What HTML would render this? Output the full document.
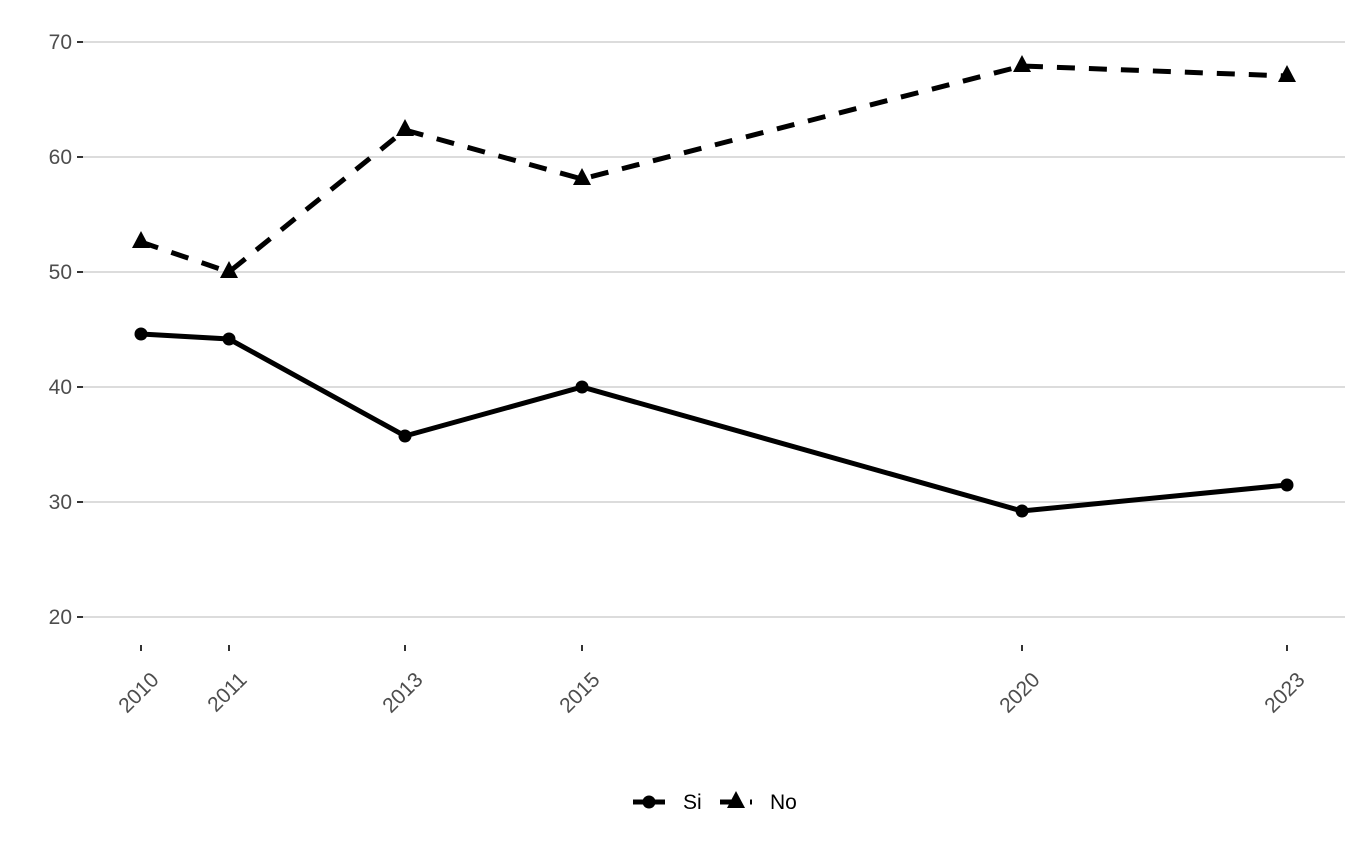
<!DOCTYPE html>
<html><head><meta charset="utf-8"><style>html,body{margin:0;padding:0;background:#fff}</style></head>
<body>
<svg width="1358" height="849" xmlns="http://www.w3.org/2000/svg" font-family="Liberation Sans, Arial, sans-serif">
<g stroke="#dcdcdc" stroke-width="2">
<line x1="83" y1="42" x2="1345" y2="42"/>
<line x1="83" y1="157" x2="1345" y2="157"/>
<line x1="83" y1="272" x2="1345" y2="272"/>
<line x1="83" y1="387" x2="1345" y2="387"/>
<line x1="83" y1="502" x2="1345" y2="502"/>
<line x1="83" y1="617" x2="1345" y2="617"/>
</g>
<g stroke="#333" stroke-width="2">
<line x1="77" y1="42" x2="83" y2="42"/><line x1="77" y1="157" x2="83" y2="157"/><line x1="77" y1="272" x2="83" y2="272"/><line x1="77" y1="387" x2="83" y2="387"/><line x1="77" y1="502" x2="83" y2="502"/><line x1="77" y1="617" x2="83" y2="617"/>
<line x1="141" y1="645" x2="141" y2="651"/><line x1="229" y1="645" x2="229" y2="651"/><line x1="405" y1="645" x2="405" y2="651"/><line x1="582" y1="645" x2="582" y2="651"/><line x1="1022" y1="645" x2="1022" y2="651"/><line x1="1287" y1="645" x2="1287" y2="651"/>
</g>
<g fill="#4d4d4d" font-size="21" text-anchor="end">
<text x="72" y="49">70</text><text x="72" y="164">60</text><text x="72" y="279">50</text><text x="72" y="394">40</text><text x="72" y="509">30</text><text x="72" y="624">20</text>
<text transform="translate(160,681) rotate(-45)">2010</text>
<text transform="translate(248,681) rotate(-45)">2011</text>
<text transform="translate(424,681) rotate(-45)">2013</text>
<text transform="translate(601,681) rotate(-45)">2015</text>
<text transform="translate(1041,681) rotate(-45)">2020</text>
<text transform="translate(1306,681) rotate(-45)">2023</text>
</g>
<polyline fill="none" stroke="#000" stroke-width="5" points="141,334 229,339 405,436 582,387 1022,511 1287,485"/>
<polyline fill="none" stroke="#000" stroke-width="5" stroke-dasharray="18,14" points="141,242 229,272 405,130 582,179 1022,66 1287,76"/>
<g fill="#000">
<circle cx="141" cy="334" r="6.5"/><circle cx="229" cy="339" r="6.5"/><circle cx="405" cy="436" r="6.5"/><circle cx="582" cy="387" r="6.5"/><circle cx="1022" cy="511" r="6.5"/><circle cx="1287" cy="485" r="6.5"/>
<polygon points="141,231 150,248 132,248"/><polygon points="229,261 238,278 220,278"/><polygon points="405,119 414,136 396,136"/><polygon points="582,168 591,185 573,185"/><polygon points="1022,55 1031,72 1013,72"/><polygon points="1287,65 1296,82 1278,82"/>
</g>
<line x1="633" y1="802" x2="665" y2="802" stroke="#000" stroke-width="5"/>
<circle cx="649" cy="802" r="6.5" fill="#000"/>
<text x="683" y="809" font-size="21" fill="#000">Si</text>
<line x1="720" y1="802" x2="752" y2="802" stroke="#000" stroke-width="5" stroke-dasharray="18,12"/>
<polygon points="736,791 745,808 727,808" fill="#000"/>
<text x="770" y="809" font-size="21" fill="#000">No</text>
</svg>
</body></html>
